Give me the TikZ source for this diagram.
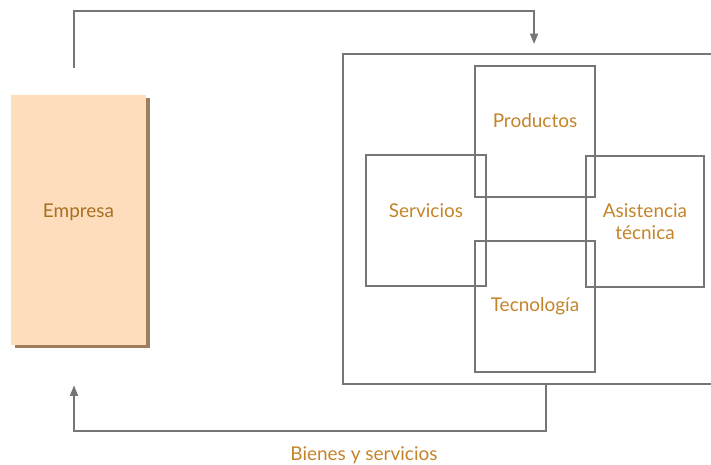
\documentclass[tikz,border=0pt]{standalone}
\usepackage{fontspec}
\setmainfont{Lato}
\usepackage{tikz}
\usetikzlibrary{positioning,arrows.meta,calc,shadows}
\definecolor{empfill}{RGB}{253,221,188}
\definecolor{empshade}{RGB}{160,125,92}
\definecolor{labelgold}{RGB}{196,132,42}
\definecolor{linegray}{RGB}{118,118,118}
\tikzset{
  area/.style={draw=linegray,line width=1.1pt,minimum width=2.4cm,minimum height=2.62cm,inner sep=0pt,align=center,text=labelgold},
  lifted/.style={text height=8pt,text depth=#1},
  flow/.style={draw=linegray,line width=1.1pt,-{Triangle[length=6pt,width=4.5pt]}}
}

\begin{document}
\begin{tikzpicture}[x=.02cm,y=-.02cm,every node/.style={font=\fontsize{10.8}{12.5}\selectfont}]
      \useasboundingbox (0,0) rectangle (711,465);
      \node[fill=empfill,minimum width=2.7cm,minimum height=5cm,inner sep=0pt,text=labelgold!85!black,lifted=11pt,
        drop shadow={shadow xshift=.08cm,shadow yshift=-.06cm,fill=empshade,opacity=1}] (emp) at (78.5,220) {Empresa};
      \node[draw=linegray,line width=1.1pt,minimum width=8.34cm,minimum height=6.6cm] (mkt) at (551.5,219) {};
      \node[area,lifted=12pt] (prod) at (535,131.5) {Productos};
      \node[area,lifted=11pt] (serv) at (426,220.5) {Servicios};
      \node[area,minimum width=2.36cm] (asis) at (645,221.5) {Asistencia\\técnica};
      \node[area] (tecno) at (535,306.5) {Tecnología};
      \draw[flow] ($(emp.north)+(-4.5,-27)$) -- ++(0,-57) -| ($(mkt.north west)+(192,-9)$);
      \draw[flow] ($(mkt.south west)+(204,0)$) -- ++(0,46) -| ($(emp.south)+(-4.5,40)$);
      \node[text=labelgold] (goods) at (364,455) {Bienes y servicios};
    \end{tikzpicture}
\end{document}
